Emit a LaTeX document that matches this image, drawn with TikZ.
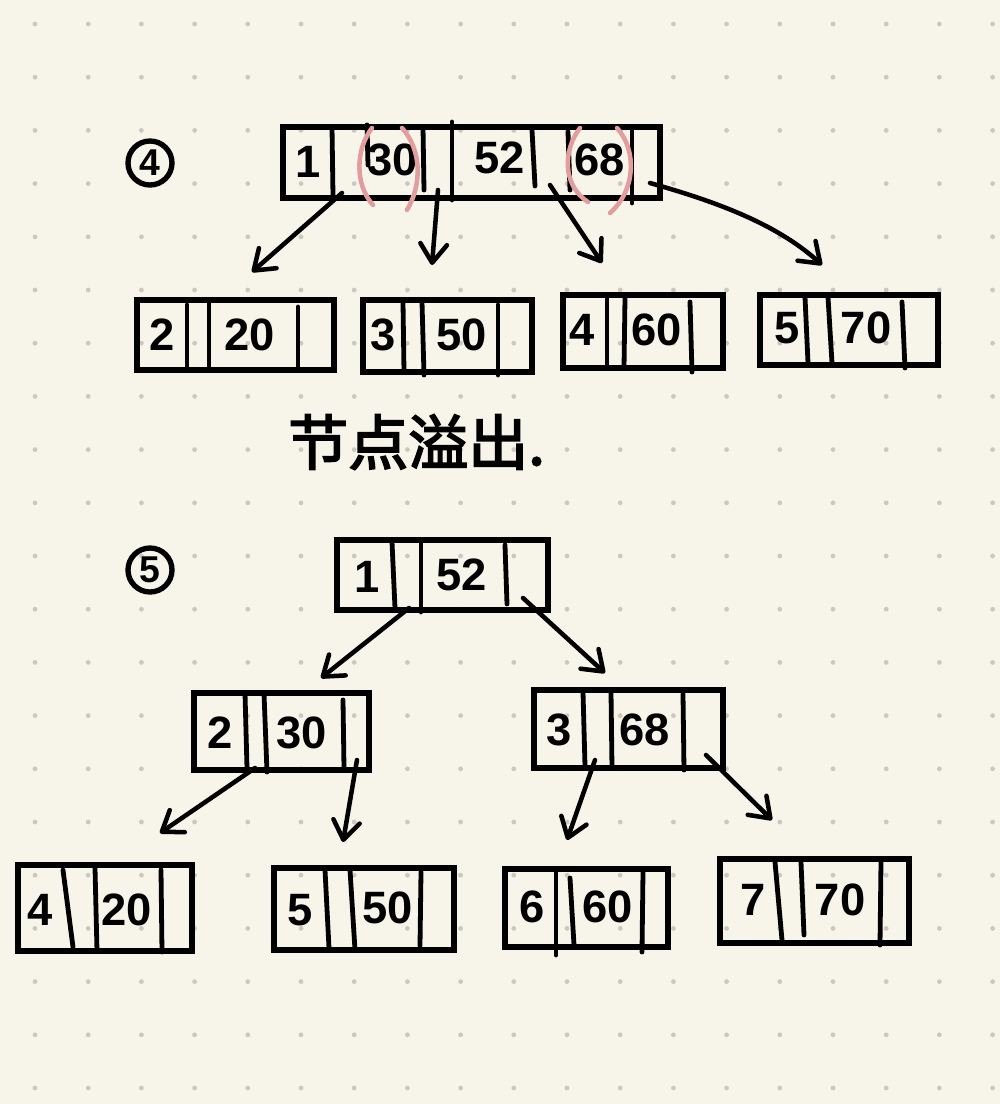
\documentclass[tikz,border=0pt]{standalone}
\usepackage{fontspec}
\setmainfont{Liberation Sans}
\newfontfamily\cjk[AutoFakeBold=3]{Noto Sans CJK SC}
\usetikzlibrary{arrows.meta,fit}
\definecolor{paper}{HTML}{F7F5EA}
\definecolor{dotc}{HTML}{CAC8C0}
\definecolor{pinkc}{HTML}{E29E9E}
\begin{document}
\begin{tikzpicture}[x=0.75pt,y=-0.75pt,
  boxst/.style={draw, line width=4.4pt, inner sep=0pt},
  div/.style={line width=3.6pt, line cap=round},
  num/.style={font=\bfseries\fontsize{34}{34}\selectfont, inner sep=0pt},
  arr/.style={line width=3.4pt, line cap=round, line join=round,
    -{Straight Barb[length=14pt,width=20pt,line cap=round,line join=round]}},
  paren/.style={draw=pinkc, line width=3.4pt, line cap=round},
  circ/.style={draw, circle, line width=4pt, minimum size=33pt, inner sep=0pt,
    font=\bfseries\fontsize{28}{28}\selectfont},
  cjkst/.style={font=\cjk\bfseries\fontsize{45}{45}\selectfont, inner sep=0pt}
]
\fill[paper] (0,0) rectangle (1000,1104);
\useasboundingbox (0,0) rectangle (1000,1104);
\foreach \i in {0,...,18}{
  \foreach \j in {0,...,20}{
    \fill[dotc] (35+53.2*\i, 24+53.2*\j) circle (1.8pt);
  }
}

% ---------------- step 4 ----------------
\node[circ] (c4) at (150,163) {4};

\node[boxst, fit={(283,127) (660,198)}] (r4) {};
\draw[div] (332,127) -- (333,196);
\draw[div] (367,125) -- (368,165);
\draw[div] (423,127) -- (424,190);
\draw[div] (452,122) -- (452,200);
\draw[div] (532,130) -- (535,186);
\draw[div] (568,132) -- (570,190);
\draw[div] (632,130) -- (632,203);
\node[num] (r4k0) at (308,162) {1};
\node[num] (r4k1) at (393,160) {30};
\node[num] (r4k2) at (500,158) {52};
\node[num] (r4k3) at (600,160) {68};
\draw[paren] (372,128) .. controls (355,150) and (355,185) .. (373,205);
\draw[paren] (402,128) .. controls (422,150) and (422,185) .. (407,210);
\draw[paren] (580,128) .. controls (563,150) and (562,185) .. (588,202);
\draw[paren] (617,128) .. controls (637,150) and (636,190) .. (610,213);

\node[boxst, fit={(137,300) (334,370)}] (b42) {};
\draw[div] (187,305) -- (187,367);
\draw[div] (209,300) -- (209,370);
\draw[div] (298,307) -- (298,368);
\node[num] (b42a) at (162,335) {2};
\node[num] (b42b) at (250,335) {20};

\node[boxst, fit={(363,300) (532,372)}] (b43) {};
\draw[div] (403,302) -- (404,372);
\draw[div] (422,302) -- (424,375);
\draw[div] (498,305) -- (498,375);
\node[num] (b43a) at (383,335) {3};
\node[num] (b43b) at (462,335) {50};

\node[boxst, fit={(563,295) (723,368)}] (b44) {};
\draw[div] (607,298) -- (607,368);
\draw[div] (625,298) -- (624,368);
\draw[div] (690,302) -- (692,372);
\node[num] (b44a) at (582,330) {4};
\node[num] (b44b) at (657,330) {60};

\node[boxst, fit={(760,295) (938,365)}] (b45) {};
\draw[div] (805,297) -- (808,363);
\draw[div] (828,297) -- (832,363);
\draw[div] (902,302) -- (905,368);
\node[num] (b45a) at (787,328) {5};
\node[num] (b45b) at (866,328) {70};

\coordinate (a1s) at (342,193); \coordinate (a1e) at (252,272);
\coordinate (a2s) at (438,190); \coordinate (a2e) at (432,265);
\coordinate (a3s) at (550,185); \coordinate (a3e) at (602,263);
\coordinate (a4s) at (650,183); \coordinate (a4e) at (822,265);
\draw[arr] (a1s) -- (a1e);
\draw[arr] (a2s) -- (a2e);
\draw[arr] (a3s) -- (a3e);
\draw[arr] (a4s) .. controls (710,200) and (775,222) .. (a4e);

\node[cjkst, anchor=west] (ovf) at (288,442) {节点溢出.};

% ---------------- step 5 ----------------
\node[circ] (c5) at (150,570) {5};

\node[boxst, fit={(337,540) (548,610)}] (r5) {};
\draw[div] (392,542) -- (395,608);
\draw[div] (421,542) -- (421,612);
\draw[div] (505,545) -- (507,604);
\node[num] (r5a) at (367,577) {1};
\node[num] (r5b) at (462,575) {52};

\node[boxst, fit={(194,693) (369,770)}] (l5) {};
\draw[div] (245,693) -- (247,768);
\draw[div] (264,693) -- (267,772);
\draw[div] (343,700) -- (344,768);
\node[num] (l5a) at (220,733) {2};
\node[num] (l5b) at (302,733) {30};

\node[boxst, fit={(534,690) (723,768)}] (q5) {};
\draw[div] (583,692) -- (585,766);
\draw[div] (611,692) -- (612,768);
\draw[div] (683,694) -- (684,770);
\node[num] (q5a) at (559,730) {3};
\node[num] (q5b) at (645,730) {68};

\node[boxst, fit={(18,865) (192,951)}] (d4) {};
\draw[div] (63,870) -- (73,947);
\draw[div] (95,868) -- (97,951);
\draw[div] (161,870) -- (162,952);
\node[num] (d4a) at (40,910) {4};
\node[num] (d4b) at (127,910) {20};

\node[boxst, fit={(274,868) (454,950)}] (d5) {};
\draw[div] (325,870) -- (329,948);
\draw[div] (350,870) -- (355,950);
\draw[div] (421,872) -- (420,946);
\node[num] (d5a) at (300,910) {5};
\node[num] (d5b) at (388,908) {50};

\node[boxst, fit={(505,869) (668,947)}] (d6) {};
\draw[div] (556,872) -- (556,955);
\draw[div] (570,878) -- (574,945);
\draw[div] (643,872) -- (642,952);
\node[num] (d6a) at (532,907) {6};
\node[num] (d6b) at (608,907) {60};

\node[boxst, fit={(720,859) (909,943)}] (d7) {};
\draw[div] (775,862) -- (782,940);
\draw[div] (801,862) -- (804,935);
\draw[div] (881,862) -- (880,945);
\node[num] (d7a) at (753,900) {7};
\node[num] (d7b) at (840,900) {70};

\coordinate (e1s) at (409,608); \coordinate (e1e) at (321,678);
\coordinate (e2s) at (523,598); \coordinate (e2e) at (605,673);
\coordinate (e3s) at (255,768); \coordinate (e3e) at (160,833);
\coordinate (e4s) at (357,760); \coordinate (e4e) at (343,842);
\coordinate (e5s) at (595,760); \coordinate (e5e) at (567,840);
\coordinate (e6s) at (706,755); \coordinate (e6e) at (772,820);
\draw[arr] (e1s) -- (e1e);
\draw[arr] (e2s) -- (e2e);
\draw[arr] (e3s) -- (e3e);
\draw[arr] (e4s) -- (e4e);
\draw[arr] (e5s) -- (e5e);
\draw[arr] (e6s) -- (e6e);
\end{tikzpicture}
\end{document}
